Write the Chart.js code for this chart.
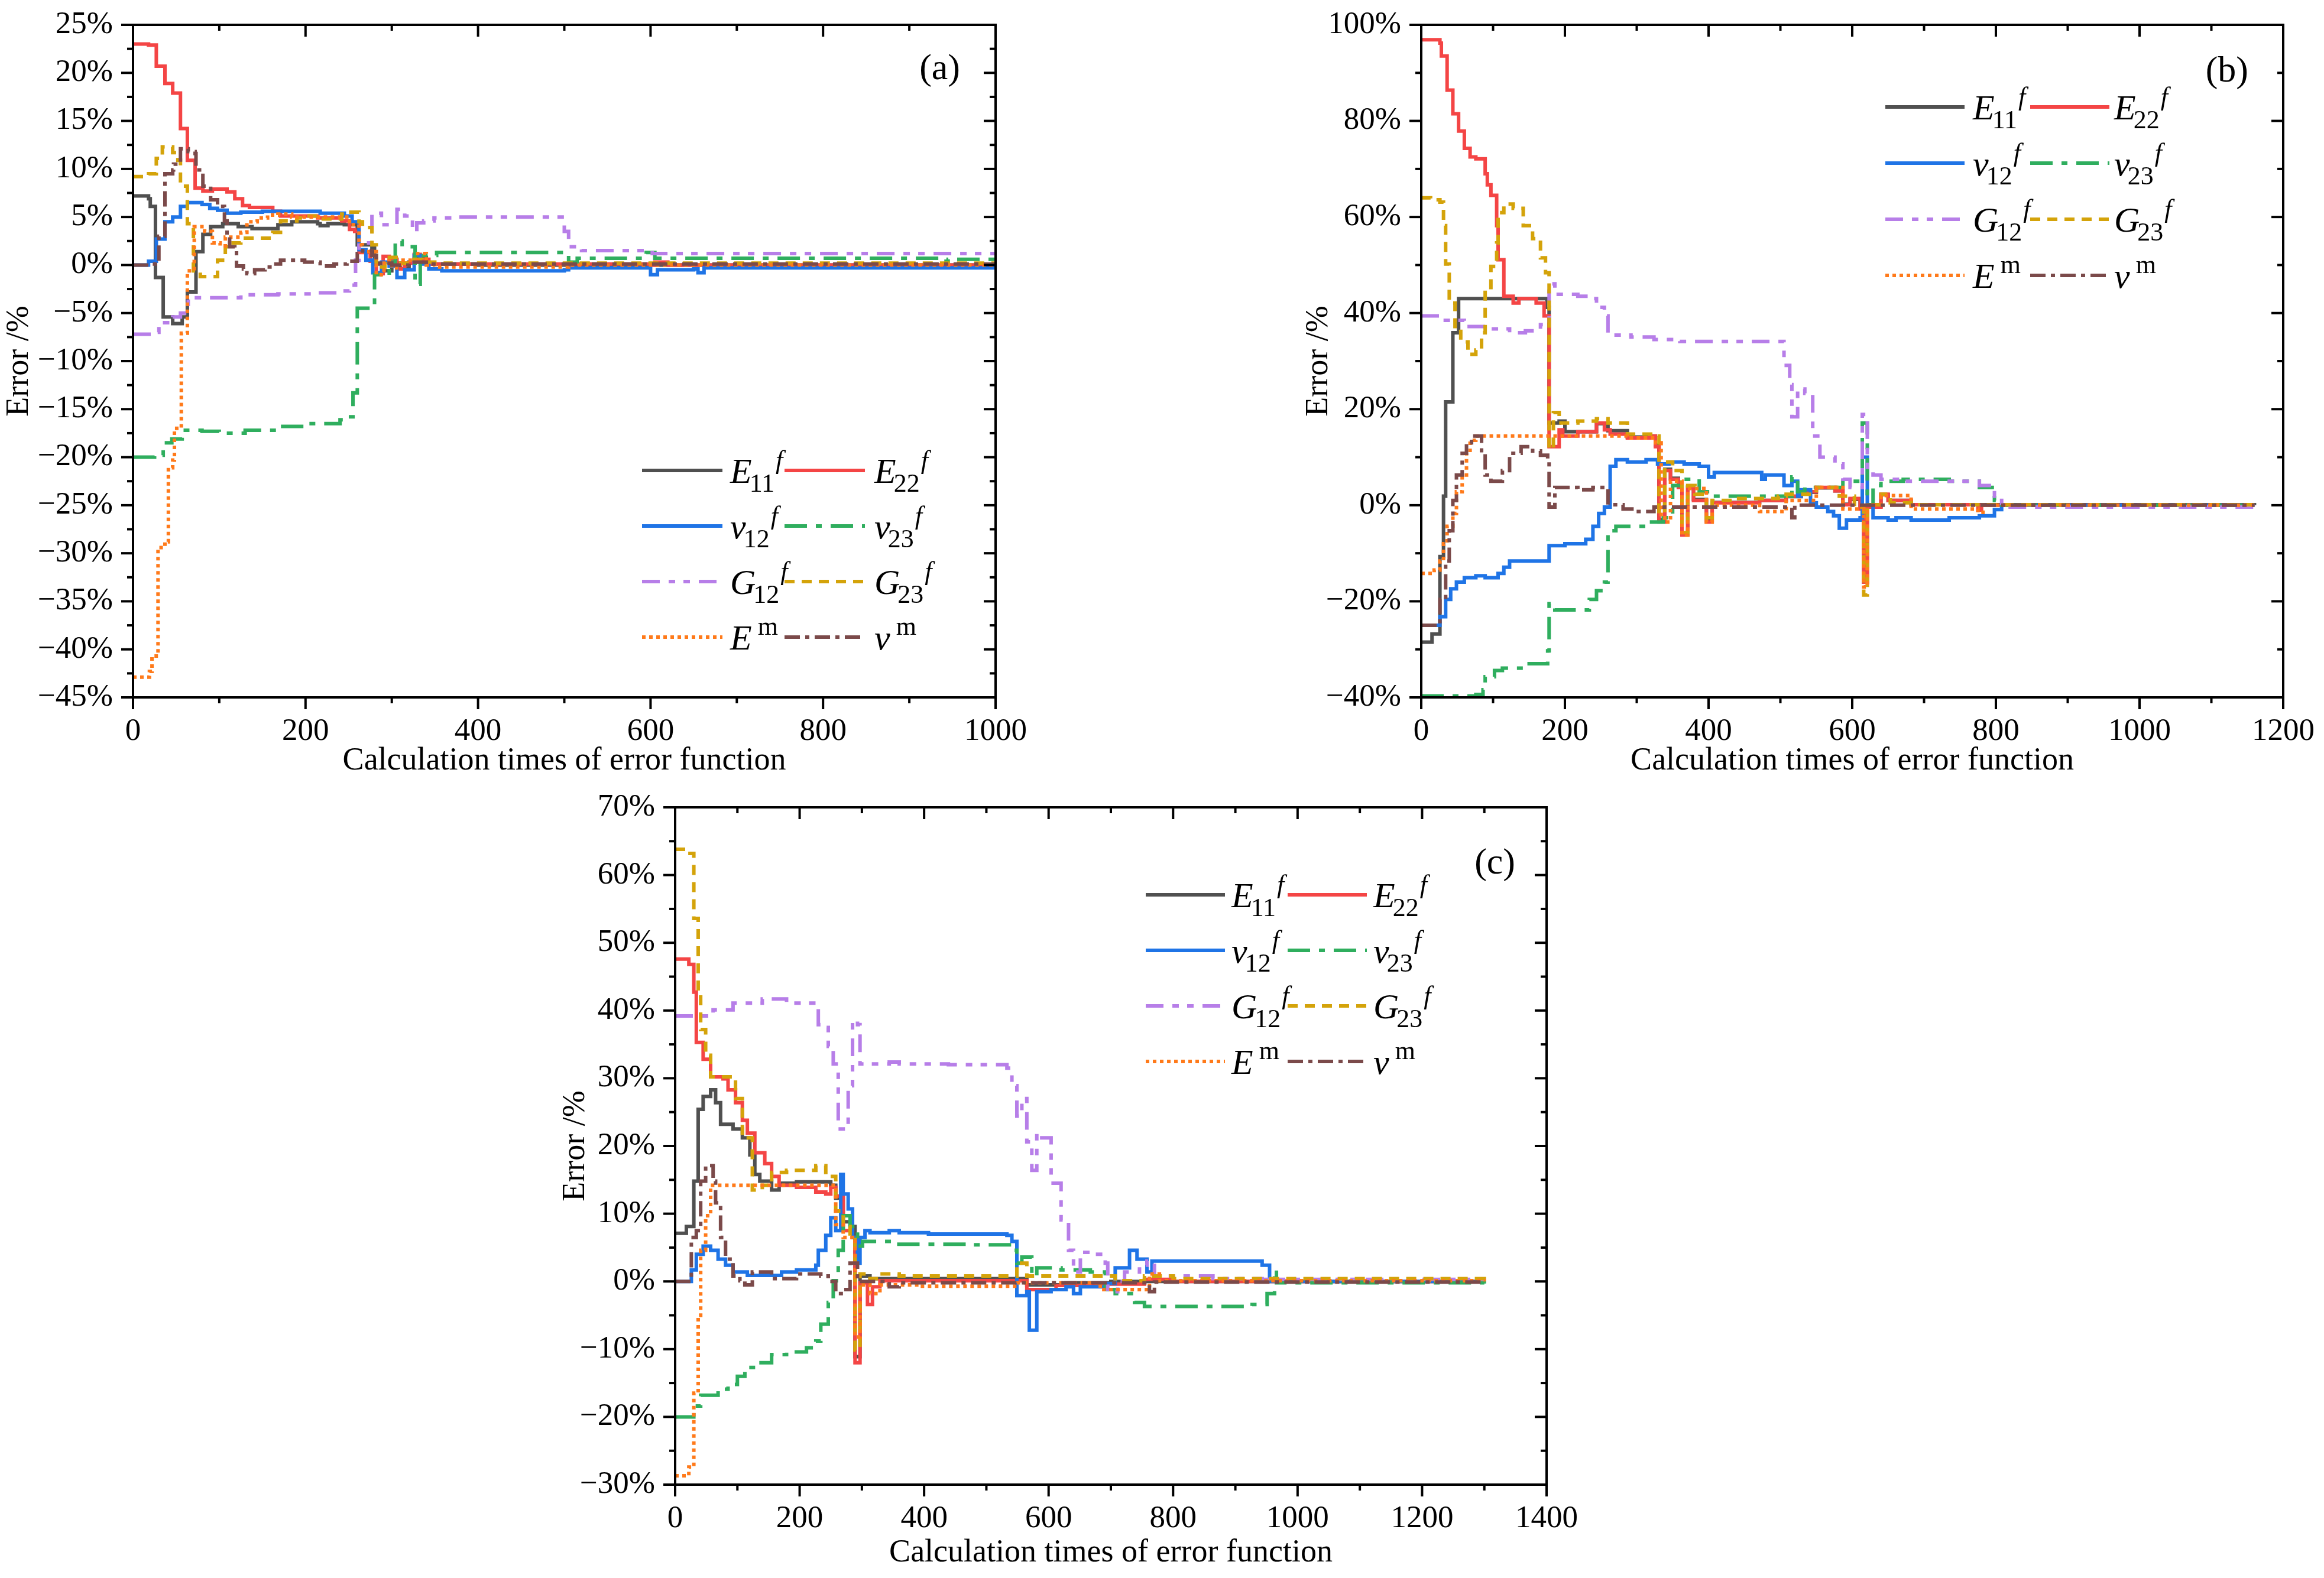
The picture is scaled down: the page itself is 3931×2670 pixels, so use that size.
<!DOCTYPE html>
<html>
<head>
<meta charset="utf-8">
<script src="https://cdn.jsdelivr.net/npm/chart.js@4.4.1/dist/chart.umd.min.js"></script>
<style>
  html, body { margin: 0; padding: 0; background: #fff; }
  body { width: 3931px; height: 2670px; position: relative; overflow: hidden; }
  canvas { position: absolute; }
</style>
</head>
<body>
<canvas id="chartA" width="1760" height="1320" style="left:0;top:0"></canvas>
<canvas id="chartB" width="1781" height="1320" style="left:2150px;top:0"></canvas>
<canvas id="chartC" width="1800" height="1350" style="left:900px;top:1320px"></canvas>
<script>
/* --------------- Series names / styles --------------------- */
const seriesLabels = [
  { main: "E", sub: "11", sup: "f" },
  { main: "E", sub: "22", sup: "f" },
  { main: "v", sub: "12", sup: "f" },
  { main: "v", sub: "23", sup: "f" },
  { main: "G", sub: "12", sup: "f" },
  { main: "G", sub: "23", sup: "f" },
  { main: "E", sup: "m", upright: true },
  { main: "v", sup: "m", upright: true },
];
const seriesColors = ["#505050", "#f44545", "#1f74e6", "#2fae5e", "#b77ee8", "#d4a30a", "#ff7a1a", "#7b4a4a"];
const seriesDash = [[], [], [], [38, 15, 10, 15], [30, 15, 11, 14, 11, 15], [17, 12], [6, 6], [26, 9, 7, 9]];

/* --------------- Tick labels --------------------- */
const aXTicks = [0, 200, 400, 600, 800, 1000];
const aYTicks = [25, 20, 15, 10, 5, 0, -5, -10, -15, -20, -25, -30, -35, -40, -45];
const bXTicks = [0, 200, 400, 600, 800, 1000, 1200];
const bYTicks = [100, 80, 60, 40, 20, 0, -20, -40];
const cXTicks = [0, 200, 400, 600, 800, 1000, 1200, 1400];
const cYTicks = [70, 60, 50, 40, 30, 20, 10, 0, -10, -20, -30];

/* --------------- (a) values [calc times, error %] --------------------- */
const aE11 = [[0,7.2],[18,6.9],[20,6.1],[26,-1.3],[35,-5.4],[46,-6.1],[57,-5.4],[63,-2.8],[73,1.4],[81,3.2],[90,4.0],[104,4.3],[122,4.0],[138,3.8],[168,4.2],[184,4.5],[214,4.3],[217,4.1],[226,4.3],[245,4.2],[260,2.1],[277,1.8],[280,0.1],[290,-0.6],[300,0.2],[310,-0.4],[320,0.3],[330,0.8],[340,0.1],[400,0],[1000,0]];
const aE22 = [[0,23.0],[18,22.9],[27,20.7],[37,18.9],[46,17.9],[55,14.2],[63,10.9],[72,8.0],[81,7.7],[92,7.9],[109,7.6],[118,6.9],[127,6.2],[135,6.0],[162,5.6],[171,5.1],[214,4.9],[242,4.6],[251,3.7],[257,3.5],[262,1.3],[275,0.4],[282,-0.9],[290,0.9],[297,0.6],[306,-0.4],[315,0.2],[326,1.1],[333,0.6],[343,0.1],[600,0],[605,0.3],[620,0],[1000,0]];
const aV12 = [[0,0],[18,0.4],[27,2.7],[37,4.5],[46,5.0],[55,6.1],[63,6.5],[80,6.3],[89,5.9],[98,5.7],[109,5.4],[125,5.5],[150,5.6],[217,5.4],[245,5.1],[254,4.5],[262,1.6],[270,0.5],[278,-0.8],[288,0.3],[297,-0.1],[306,-1.3],[315,-0.5],[326,1.0],[333,0.1],[343,-0.4],[358,-0.6],[500,-0.5],[505,-0.3],[598,-0.3],[600,-1.0],[608,-0.5],[650,-0.4],[655,-0.8],[662,-0.3],[1000,-0.3]];
const aV23 = [[0,-20],[25,-19.8],[35,-18.5],[45,-18.1],[57,-17.2],[80,-17.3],[100,-17.5],[130,-17.2],[170,-16.8],[200,-16.5],[240,-16.1],[245,-15.8],[255,-13.3],[260,-4.5],[275,-4.3],[280,-1.0],[290,-1.1],[297,0.3],[304,2.5],[312,1.9],[327,-2.0],[333,1.0],[352,1.3],[505,0.3],[515,0.7],[592,0.7],[595,1.3],[605,0.7],[930,0.7],[935,0.4],[945,0.6],[1000,0.6]];
const aG12 = [[0,-7.2],[25,-7.0],[30,-6.0],[46,-5.4],[55,-5.0],[64,-3.4],[107,-3.4],[125,-3.1],[168,-3.0],[214,-2.9],[242,-2.7],[251,-2.1],[258,0.5],[262,2.3],[277,5.4],[288,4.2],[306,5.8],[315,5.1],[324,3.5],[329,4.4],[337,4.6],[349,4.9],[370,5.0],[490,5.0],[500,3.5],[505,1.9],[520,1.5],[600,1.5],[602,1.2],[1000,1.1]];
const aG23 = [[0,9.2],[18,9.5],[27,11.1],[34,12.3],[46,11.7],[52,10.9],[55,8.2],[63,4.3],[70,-0.6],[78,-1.2],[98,0.5],[107,1.9],[116,2.3],[125,2.8],[162,3.4],[171,4.6],[190,4.9],[199,5.1],[214,4.8],[242,5.3],[248,5.5],[262,4.5],[266,3.9],[277,2.1],[282,-0.2],[292,0.8],[305,0.2],[320,0.6],[335,0.3],[360,0.2],[1000,0.1]];
const aEm = [[0,-42.9],[19,-42.3],[22,-40.7],[29,-29.4],[37,-28.8],[41,-21.1],[46,-20.3],[48,-17.0],[56,-7.1],[63,-0.6],[71,4.0],[83,3.5],[92,2.3],[101,2.0],[107,2.9],[125,3.4],[132,4.5],[144,4.9],[156,5.2],[168,5.3],[184,5.0],[251,4.2],[262,2.1],[266,1.4],[282,-1.0],[291,0.4],[300,-0.3],[310,0.5],[330,1.2],[340,0],[350,-0.2],[500,-0.2],[505,0],[1000,0]];
const aVm = [[0,0],[18,0.1],[30,3],[37,9.5],[46,9.9],[47,10.5],[55,12.1],[64,11.8],[72,11.6],[73,9.9],[81,8.2],[90,6.8],[98,6.1],[106,4.6],[109,3.0],[112,1.9],[118,1.7],[120,-0.1],[128,-0.4],[132,-0.9],[141,-0.5],[153,-0.2],[162,0.1],[171,0.5],[199,0.3],[217,-0.1],[233,0.1],[248,0.4],[260,1.2],[266,1.5],[277,1.0],[282,0.2],[300,0],[320,0.3],[340,0.1],[1000,0.1]];

/* --------------- (b) values --------------------- */
const bE11 = [[0,-28.5],[15,-26.8],[26,-10.7],[31,1.9],[34,21.5],[44,35.9],[52,43],[171,43],[175,41.2],[178,17.1],[192,17.5],[200,15.3],[244,17],[260,15.5],[287,14.2],[318,14.4],[326,12.5],[331,-3],[339,7.5],[347,5.6],[358,3.8],[363,-6],[371,3.8],[379,1.2],[397,-3.2],[405,0.6],[471,1.0],[508,1.8],[529,2.7],[550,3.6],[576,3.0],[587,0.2],[597,1.2],[611,-0.6],[616,-16],[621,-0.3],[640,2.2],[650,1.0],[682,0.1],[1160,0]];
const bE22 = [[0,96.9],[26,96.2],[28,93.5],[36,86.4],[44,81.5],[52,77.9],[60,74.3],[68,72.5],[76,72.1],[89,69],[92,66.7],[97,64.5],[105,58.2],[107,51.1],[115,43.5],[128,42.1],[136,43],[160,42.1],[171,39.4],[178,12.2],[192,15.7],[197,14.4],[218,15.3],[244,17.1],[255,15.7],[263,14.8],[287,14],[318,14.4],[326,12.2],[331,-3.5],[339,7.2],[347,5.4],[358,3.7],[363,-6.2],[371,3.7],[379,1.0],[397,-3.5],[405,0.5],[471,1.0],[508,1.9],[529,2.8],[550,3.7],[576,3.0],[587,0.1],[597,1.4],[611,-0.8],[616,-16],[621,-0.4],[640,2.3],[650,1.0],[682,0.1],[775,-1],[780,0],[1160,0]];
const bV12 = [[0,-25],[26,-23.2],[34,-19.6],[41,-17.4],[49,-16],[60,-15.1],[76,-14.7],[89,-15.1],[107,-14.2],[115,-12.9],[123,-11.6],[178,-8.4],[200,-8.0],[229,-7.1],[239,-4.4],[247,-1.7],[255,-0.4],[263,8.1],[271,9.5],[287,9.0],[313,9.5],[329,8.6],[345,9.0],[366,8.6],[387,8.1],[400,5.9],[408,6.8],[474,5.4],[479,6.3],[505,4.1],[516,5.0],[524,1.9],[529,3.2],[542,0.5],[550,-0.4],[566,-1.3],[574,-2.2],[582,-4.8],[592,-3.1],[611,-2.6],[614,10],[621,0.1],[629,-2.6],[650,-3.1],[661,-2.6],[682,-3.1],[735,-2.6],[777,-2.2],[798,-0.9],[808,0],[1160,0]];
const bV23 = [[0,-39.7],[76,-39.4],[86,-38.4],[89,-35.7],[102,-34.4],[113,-33.9],[142,-33],[176,-30.3],[178,-20.5],[186,-21.8],[234,-19.6],[244,-17.8],[255,-16],[260,-5.3],[271,-4.4],[313,-3.5],[337,-2.6],[350,4.1],[366,5.4],[387,2.8],[402,1.9],[511,1.9],[516,5.9],[524,2.8],[534,3.7],[587,5.0],[614,17.1],[621,0.1],[629,4.1],[640,5.0],[671,5.4],[735,5.0],[777,3.7],[798,1.0],[808,0],[1160,0]];
const bG12 = [[0,39.4],[28,38.5],[60,37.2],[92,36.7],[123,35.9],[145,36.3],[166,37.6],[178,46.1],[186,43.9],[218,43.5],[234,43],[244,41.2],[255,39.4],[260,35.4],[292,35],[324,34.5],[360,34.1],[503,34.1],[505,29.1],[513,25.1],[516,18.4],[524,24.2],[534,23.3],[545,14.4],[555,10],[576,8.6],[587,5.4],[597,3.7],[614,18.9],[621,7.2],[629,6.3],[640,5.4],[671,5.0],[735,5.0],[777,4.1],[798,1.9],[808,-0.4],[1160,-0.3]];
const bG23 = [[0,64],[13,63.6],[26,63.1],[31,58.2],[34,50.2],[39,42.1],[47,37.2],[55,34],[65,31.4],[76,32.3],[84,35.9],[89,44.8],[97,49.7],[105,54.6],[107,60.9],[115,62.7],[128,61.8],[142,58.2],[155,55.5],[166,51.5],[173,48.4],[178,11.7],[184,19.3],[192,17.1],[218,17.5],[244,18],[260,17.1],[287,14.8],[326,14.4],[331,-1.7],[339,9.0],[350,7.2],[363,-5.7],[371,4.1],[381,2.3],[397,-2.6],[405,1.0],[434,1.4],[497,1.9],[508,2.3],[550,3.7],[582,1.9],[603,-0.4],[616,-18.7],[621,0.1],[640,2.3],[653,0.5],[682,0.1],[1160,0]];
const bEm = [[0,-14.2],[18,-13.5],[26,-11.6],[31,-8.0],[36,-4.4],[44,-1.7],[49,2.8],[57,6.3],[63,10.8],[68,13.5],[76,14.4],[260,14.4],[287,14],[326,13],[334,-2.6],[339,-3.5],[347,5],[363,-6.2],[371,3.5],[397,-3.5],[405,0],[471,-1.3],[508,1.0],[550,3.7],[587,-0.8],[616,-17],[621,0],[640,2],[682,-0.8],[775,-1.5],[782,0],[1160,0]];
const bVm = [[0,-25],[26,-19.6],[34,-11.6],[39,-5.3],[44,1.0],[49,6.3],[57,10.8],[63,13],[70,14.4],[84,10.8],[89,6.3],[97,5.0],[113,7.2],[123,10.8],[139,12.2],[155,11.3],[166,10.4],[176,9.0],[178,-0.4],[186,3.7],[218,3.2],[239,3.7],[260,0.1],[281,-0.8],[297,-1.3],[324,-0.4],[513,-0.4],[516,-2.6],[520,0],[1160,0]];

/* --------------- (c) values --------------------- */
const cE11 = [[0,7.1],[18,8.1],[30,14.8],[37,25.4],[45,27.3],[57,28.3],[65,26.4],[73,23.2],[93,22.5],[108,21.2],[120,18.7],[128,15.8],[136,14.8],[155,13.5],[167,14.5],[195,14.7],[250,14.2],[258,12.3],[270,8.8],[281,8.1],[289,-11.1],[297,0.8],[313,0.4],[549,0.4],[565,-0.5],[628,-0.2],[700,0],[1300,0]];
const cE22 = [[0,47.6],[22,46.8],[30,42.7],[34,35.3],[45,32.8],[57,30.2],[77,29.9],[85,28.3],[97,26.4],[108,23.8],[116,21.9],[128,19],[144,17.4],[155,15.5],[167,14.2],[195,13.9],[226,13.2],[242,12.9],[250,13.9],[258,12.6],[270,7.5],[285,6.5],[289,-12],[297,-0.2],[309,-3.4],[317,-0.8],[329,0.1],[565,-1.2],[612,-0.6],[691,-0.4],[754,0.3],[800,0],[1300,0]];
const cV12 = [[0,0],[26,1.7],[34,4],[45,5.2],[57,4.6],[69,3.3],[81,2.4],[93,1.4],[116,0.9],[171,1.4],[195,1.7],[226,2.4],[230,4.6],[242,6.8],[250,9.4],[258,7.5],[266,15.8],[270,12.9],[278,10.7],[285,6.5],[293,2.7],[297,6.5],[305,7.5],[313,7.2],[344,7.5],[360,7.2],[407,7.0],[533,6.8],[541,5.9],[549,-2.1],[565,-1.5],[569,-7.2],[581,-1.5],[604,-1.2],[628,-0.8],[640,-1.8],[651,-0.8],[691,-0.3],[707,2.0],[730,4.6],[742,3.3],[758,1.4],[766,3.0],[943,2.4],[955,0],[1300,0]];
const cV23 = [[0,-20],[30,-18.4],[41,-16.8],[69,-15.9],[85,-15.2],[100,-14],[112,-12.7],[132,-12],[155,-10.8],[179,-10.4],[211,-9.8],[226,-8.8],[234,-6.3],[246,-3.1],[254,0.1],[262,4.6],[270,9.7],[281,8.1],[293,5.2],[301,5.9],[352,5.5],[470,5.4],[541,4.6],[549,2.7],[557,3.6],[573,0.8],[581,2.0],[620,1.7],[667,1.4],[691,-1.2],[707,-1.8],[738,-3.1],[754,-3.7],[927,-3.4],[951,-1.8],[963,1.7],[966,-0.2],[1300,-0.3]];
const cG12 = [[0,39.2],[61,40.1],[93,41.1],[140,41.7],[179,41.1],[226,40.4],[230,37.9],[238,37.5],[246,34.7],[254,32.1],[262,22.5],[270,22.8],[278,28.9],[285,38.5],[293,37.9],[297,32.1],[344,32.4],[360,32.1],[439,32],[533,31.5],[541,28.9],[549,24.4],[557,27],[565,20.6],[573,16.4],[581,21.9],[589,21.2],[604,14.5],[620,9.1],[632,4.6],[640,1.4],[651,4.3],[675,4],[691,2.7],[695,-1.5],[711,0],[722,1.4],[746,2.4],[758,3.0],[770,0.8],[864,0.4],[943,0.3],[1300,0.3]];
const cG23 = [[0,63.8],[18,63.2],[30,53.6],[37,42.4],[41,37.2],[49,33.4],[57,30.2],[97,27],[108,21.2],[124,13.5],[140,14.2],[155,16.1],[179,16.4],[226,17.1],[242,15.5],[258,10.4],[270,8.1],[281,6.2],[289,-10.1],[297,1.1],[313,0.4],[329,1.1],[360,0.8],[541,0.8],[549,2.7],[565,0.8],[707,0.1],[754,0.8],[800,0.4],[1300,0]];
const cEm = [[0,-28.7],[22,-27.4],[30,-16.5],[37,-5],[41,4.6],[49,9.7],[57,14.2],[250,14.2],[258,8.4],[270,6.5],[285,5.9],[289,-8.2],[297,-0.5],[313,-1.8],[329,-0.5],[392,-0.7],[549,-0.2],[683,-1.2],[762,1.1],[778,0.1],[1300,0]];
const cVm = [[0,0],[22,0],[26,6.5],[34,7.5],[41,14.8],[49,17.1],[61,14.8],[65,11.6],[73,6.5],[81,3.3],[93,0.8],[104,0.1],[112,-0.5],[124,1.4],[155,0.4],[195,1.1],[234,0.8],[246,0],[258,-1.8],[270,-1.2],[281,2.7],[293,0],[344,-0.8],[360,-0.2],[762,-1.5],[770,-0.1],[1300,0]];

const FONT = '"Liberation Serif", "Times New Roman", serif';

/* --------------- Legend text with sub / superscripts --------------------- */
function drawMathLabel(ctx, x, base, lab) {
  ctx.fillStyle = "#000";
  ctx.textAlign = "left";
  ctx.textBaseline = "alphabetic";
  ctx.font = "italic 60px " + FONT;
  ctx.fillText(lab.main, x, base);
  let w = ctx.measureText(lab.main).width;
  if (lab.sub) {
    ctx.font = "44px " + FONT;
    ctx.fillText(lab.sub, x + w - 4, base + 15);
    const sw = ctx.measureText(lab.sub).width;
    ctx.font = "italic 44px " + FONT;
    ctx.fillText(lab.sup, x + w - 4 + sw + 2, base - 24);
  } else {
    ctx.font = (lab.upright ? "" : "italic ") + "44px " + FONT;
    ctx.fillText(lab.sup, x + w + 10, base - 25);
  }
}

const mathLegend = {
  id: "mathLegend",
  afterDraw(chart, args, o) {
    const ctx = chart.ctx;
    ctx.save();
    chart.data.datasets.forEach((ds, i) => {
      const row = Math.floor(i / 2), col = i % 2;
      const y = o.top + row * o.rowGap;
      ctx.strokeStyle = ds.borderColor;
      ctx.lineWidth = ds.borderWidth;
      ctx.setLineDash(ds.borderDash);
      ctx.beginPath();
      ctx.moveTo(o.sampleX[col], y);
      ctx.lineTo(o.sampleX[col] + o.sampleW, y);
      ctx.stroke();
      ctx.setLineDash([]);
      drawMathLabel(ctx, o.textX[col], y + 21, seriesLabels[i]);
    });
    ctx.font = "62px " + FONT;
    ctx.fillStyle = "#000";
    ctx.textAlign = "right";
    ctx.textBaseline = "middle";
    ctx.fillText(o.tag, o.tagX, o.tagY);
    ctx.restore();
  }
};

/* --------------- Origin-like frame with in/out ticks --------------------- */
const originFrame = {
  id: "originFrame",
  afterDatasetsDraw(chart, args, o) {
    const { ctx, chartArea: a, scales: { x, y } } = chart;
    ctx.save();
    ctx.strokeStyle = "#000";
    ctx.lineWidth = 4;
    ctx.setLineDash([]);
    ctx.strokeRect(a.left, a.top, a.right - a.left, a.bottom - a.top);
    const line = (x1, y1, x2, y2) => { ctx.beginPath(); ctx.moveTo(x1, y1); ctx.lineTo(x2, y2); ctx.stroke(); };
    const withMinor = (t) => {
      const s = [...t].sort((p, q) => p - q), out = [];
      s.forEach((v, i) => { out.push([v, 20]); if (i < s.length - 1) out.push([(v + s[i + 1]) / 2, 10]); });
      return out;
    };
    withMinor(o.xTicks).forEach(([v, len]) => {
      const px = x.getPixelForValue(v);
      line(px, a.bottom, px, a.bottom + len);
      line(px, a.top, px, a.top + len);
    });
    withMinor(o.yTicks).forEach(([v, len]) => {
      const py = y.getPixelForValue(v);
      line(a.left - len, py, a.left, py);
      line(a.right - len, py, a.right, py);
    });
    ctx.restore();
  }
};

function pct(v) {
  if (v === 0) return "0%";
  return (v < 0 ? "\u2212" + (-v) : String(v)) + "%";
}

function makeChart(id, series, xTicks, yTicks, lay) {
  const datasets = series.map((d, i) => ({
    data: d,
    order: series.length - i, // later series drawn on top, like the original
    borderColor: seriesColors[i],
    borderWidth: 6,
    borderDash: seriesDash[i],
    borderCapStyle: "butt",
    borderJoinStyle: "miter",
    stepped: true,
    pointRadius: 0,
    fill: false,
  }));
  return new Chart(document.getElementById(id), {
    type: "line",
    data: { datasets },
    plugins: [originFrame, mathLegend],
    options: {
      responsive: false,
      devicePixelRatio: 1,
      animation: false,
      events: [],
      layout: { padding: { top: lay.padTop, right: lay.padRight, left: 0, bottom: 0 } },
      scales: {
        x: {
          type: "linear",
          min: Math.min(...xTicks),
          max: Math.max(...xTicks),
          afterBuildTicks: (s) => { s.ticks = xTicks.map((v) => ({ value: v })); },
          afterFit: (s) => { s.height = lay.xHeight; s.paddingLeft = 0; s.paddingRight = 0; },
          grid: { display: false, drawTicks: true, tickLength: 20 },
          border: { display: false },
          ticks: { color: "#000", padding: 6, maxRotation: 0, autoSkip: false, callback: (v) => String(v),
                   font: { family: FONT, size: 53 } },
          title: { display: true, text: "Calculation times of error function", color: "#000",
                   font: { family: FONT, size: 54 }, padding: { top: 0, bottom: lay.xTitlePad } },
        },
        y: {
          type: "linear",
          min: Math.min(...yTicks),
          max: Math.max(...yTicks),
          afterBuildTicks: (s) => { s.ticks = yTicks.map((v) => ({ value: v })); },
          afterFit: (s) => { s.width = lay.yWidth; s.paddingTop = 0; s.paddingBottom = 0; },
          grid: { display: false, drawTicks: true, tickLength: 20 },
          border: { display: false },
          ticks: { color: "#000", padding: 14, autoSkip: false, callback: (v) => pct(v), font: { family: FONT, size: 53 } },
          title: { display: true, text: "Error /%", color: "#000",
                   font: { family: FONT, size: 54 }, padding: { top: lay.yTitlePad, bottom: 0 } },
        },
      },
      plugins: {
        legend: { display: false },
        tooltip: { enabled: false },
        originFrame: { xTicks, yTicks },
        mathLegend: lay.legend,
      },
    },
  });
}

/* --------------- Three panels --------------------- */
makeChart("chartA", [aE11, aE22, aV12, aV23, aG12, aG23, aEm, aVm], aXTicks, aYTicks, {
  padTop: 42, padRight: 76, xHeight: 140, yWidth: 225, xTitlePad: 0, yTitlePad: 0,
  legend: { top: 796, rowGap: 94, sampleX: [1086, 1327], sampleW: 136, textX: [1235, 1479], tag: "(a)", tagX: 1624, tagY: 118 },
});
makeChart("chartB", [bE11, bE22, bV12, bV23, bG12, bG23, bEm, bVm], bXTicks, bYTicks, {
  padTop: 42, padRight: 69, xHeight: 140, yWidth: 254, xTitlePad: 0, yTitlePad: 48,
  legend: { top: 181, rowGap: 95, sampleX: [1039, 1284], sampleW: 134, textX: [1187, 1426], tag: "(b)", tagX: 1653, tagY: 122 },
});
makeChart("chartC", [cE11, cE22, cV12, cV23, cG12, cG23, cEm, cVm], cXTicks, cYTicks, {
  padTop: 46, padRight: 84, xHeight: 158, yWidth: 242, xTitlePad: 10, yTitlePad: 41,
  legend: { top: 194, rowGap: 94, sampleX: [1038, 1278], sampleW: 134, textX: [1183, 1423], tag: "(c)", tagX: 1663, tagY: 142 },
});
</script>
</body>
</html>
